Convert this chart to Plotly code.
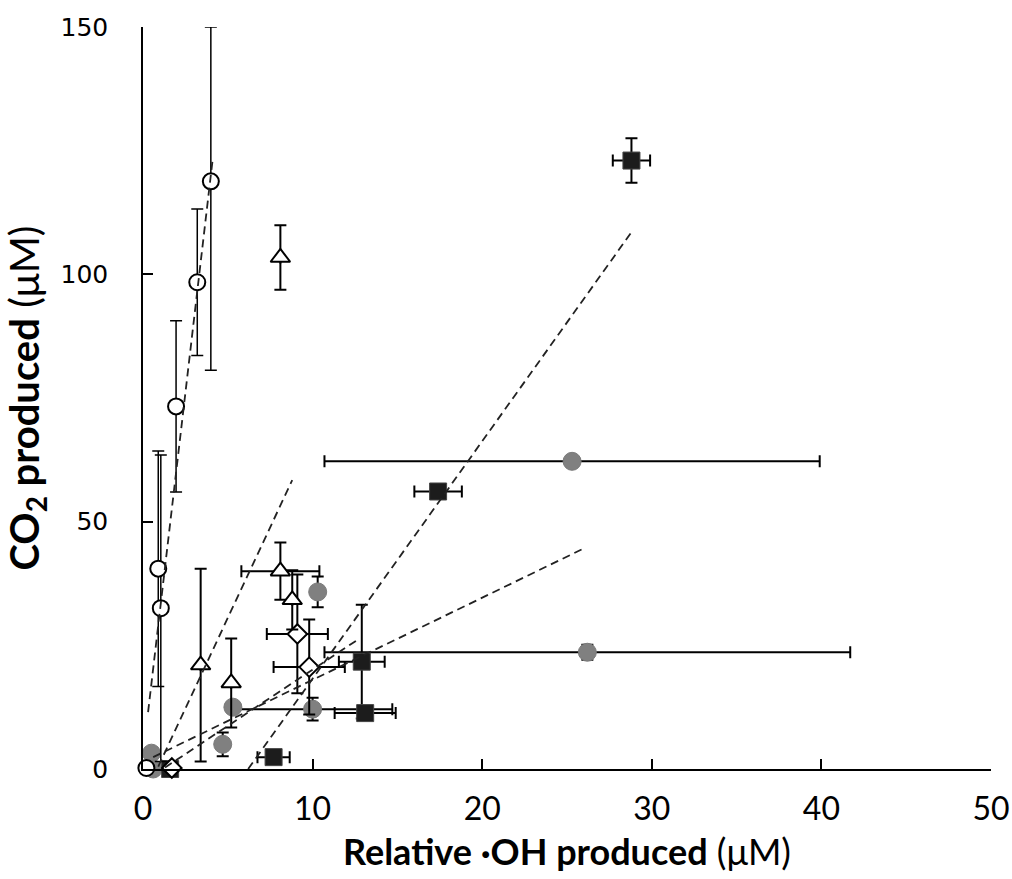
import plotly.graph_objects as go

# ---- data ----
# Open circles
oc_x = [0.2, 0.9, 1.05, 1.95, 3.2, 4.0]
oc_y = [0.2, 40.5, 32.5, 73.3, 98.4, 118.8]
oc_ey_plus = [0, 23.8, 31.0, 17.3, 14.8, 31.2]
oc_ey_minus = [0, 23.8, 31.0, 17.3, 14.8, 38.2]

# Open triangles
tr_x = [8.1, 8.1, 8.8, 3.4, 5.2]
tr_y = [103.4, 40.0, 34.2, 21.0, 17.4]
tr_ey = [6.5, 5.8, 6.0, 19.5, 9.0]
tr_ex = [0, 2.3, 0, 0, 0]

# Open diamonds
di_x = [9.1, 9.8, 1.7]
di_y = [27.3, 20.6, 0.2]
di_ey = [12.0, 9.6, 0]
di_ex = [1.8, 2.1, 0]

# Gray circles
gc_x = [25.3, 26.2, 10.3, 5.3, 10.0, 4.7, 0.5, 0.6]
gc_y = [62.2, 23.6, 35.8, 12.5, 12.1, 5.0, 3.2, 0.0]
gc_ey = [1.0, 1.5, 3.1, 0, 2.3, 2.4, 0, 0]
gc_ex = [14.6, 15.5, 0, 0, 4.7, 0, 0, 0]

# Black squares
bs_x = [28.8, 17.4, 12.9, 13.1, 7.7, 1.6]
bs_y = [123.0, 56.1, 21.7, 11.3, 2.4, 0.0]
bs_ey = [4.5, 1.0, 11.5, 1.0, 0, 0]
bs_ex = [1.1, 1.4, 1.35, 1.8, 0.95, 0]

# Dashed trend lines (end points)
trend_oc_x, trend_oc_y = [0.3, 4.1], [11.5, 123.0]
trend_tr_x, trend_tr_y = [0.9, 8.8], [0.5, 58.4]
trend_di_x, trend_di_y = [1.3, 12.6], [0.3, 26.0]
trend_gc_x, trend_gc_y = [0.6, 26.0], [2.4, 44.6]
trend_bs_x, trend_bs_y = [6.2, 28.9], [0.0, 109.0]

x_ticks = [0, 10, 20, 30, 40, 50]
y_ticks = [0, 50, 100, 150]

fig = go.Figure()

def ebar(arr, thick=2, width=6, minus=None):
    d = dict(type="data", array=arr, color="black", thickness=thick, width=width, visible=True)
    if minus is not None:
        d["symmetric"] = False
        d["arrayminus"] = minus
    return d

# gray circles
fig.add_trace(go.Scatter(
    x=gc_x, y=gc_y, mode="markers", cliponaxis=False,
    error_y=ebar(gc_ey), error_x=ebar(gc_ex),
    marker=dict(symbol="circle", size=18, color="#808080", line=dict(color="#7a7a7a", width=1))))

# black squares
fig.add_trace(go.Scatter(
    x=bs_x, y=bs_y, mode="markers", cliponaxis=False,
    error_y=ebar(bs_ey), error_x=ebar(bs_ex),
    marker=dict(symbol="square", size=17, color="#1c1c1c", line=dict(color="#444", width=1))))

# open diamonds
fig.add_trace(go.Scatter(
    x=di_x, y=di_y, mode="markers", cliponaxis=False,
    error_y=ebar(di_ey), error_x=ebar(di_ex),
    marker=dict(symbol="diamond", size=15, color="white", line=dict(color="black", width=2))))

# open triangles
fig.add_trace(go.Scatter(
    x=tr_x, y=tr_y, mode="markers", cliponaxis=False,
    error_y=ebar(tr_ey), error_x=ebar(tr_ex),
    marker=dict(symbol="triangle-up", size=17, color="white", line=dict(color="black", width=2))))

# open circles
fig.add_trace(go.Scatter(
    x=oc_x, y=oc_y, mode="markers", cliponaxis=False,
    error_y=ebar(oc_ey_plus, thick=1.5, minus=oc_ey_minus),
    marker=dict(symbol="circle", size=16, color="white", line=dict(color="black", width=2))))

for tx, ty in [(trend_oc_x, trend_oc_y), (trend_tr_x, trend_tr_y), (trend_di_x, trend_di_y),
               (trend_gc_x, trend_gc_y), (trend_bs_x, trend_bs_y)]:
    fig.add_trace(go.Scatter(x=tx, y=ty, mode="lines",
                             line=dict(color="#222222", width=1.8, dash="8px,5px")))

title_font = "Lato"

fig.update_layout(
    width=1012, height=879,
    margin=dict(l=143, r=21, t=27, b=110),
    paper_bgcolor="white", plot_bgcolor="white",
    showlegend=False,
    xaxis=dict(range=[0, 50], tickvals=x_ticks, ticks="inside", ticklen=10, tickwidth=1.5,
               tickcolor="black", showline=True, linecolor="black", linewidth=1.5,
               showgrid=False, zeroline=False, automargin=False,
               tickfont=dict(family=title_font, size=32, color="black"),
               ticklabelstandoff=11,
               title=dict(text="<b>Relative ·OH produced</b> (μM)",
                          font=dict(family=title_font, size=36, color="black"), standoff=14)),
    yaxis=dict(range=[0, 150], tickvals=y_ticks, ticks="inside", ticklen=10, tickwidth=1.5,
               tickcolor="black", showline=True, linecolor="black", linewidth=1.5,
               showgrid=False, zeroline=False, automargin=False,
               tickfont=dict(family="DejaVu Sans", size=25, color="black"),
               ticklabelstandoff=28,
               title=dict(text="<b>CO<sub>2</sub> produced</b> (μM)",
                          font=dict(family=title_font, size=40, color="black"), standoff=22)),
)

fig.write_html("out.html")
